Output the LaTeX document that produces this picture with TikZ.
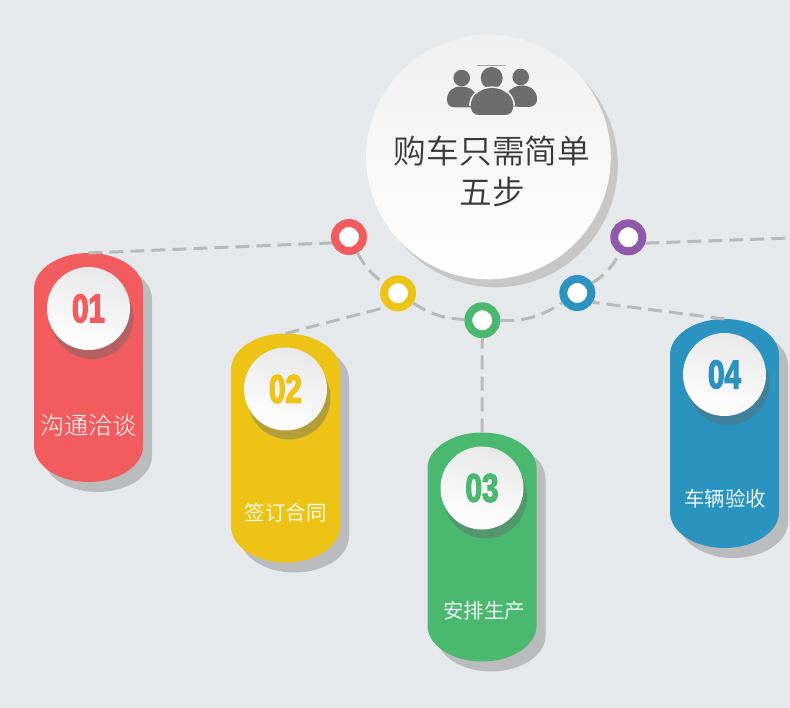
\documentclass[tikz,border=0pt]{standalone}
\usepackage{fontspec}
\newfontfamily\cjkbody{Noto Sans CJK SC DemiLight}
\newfontfamily\cjklight{Noto Sans CJK SC Light}
\newfontfamily\numfont[FakeStretch=0.74,FakeBold=3]{Liberation Sans Bold}
\definecolor{bgc}{HTML}{E6E9EC}
\definecolor{redc}{HTML}{F25C5E}
\definecolor{yelc}{HTML}{EDC316}
\definecolor{grnc}{HTML}{4AB96F}
\definecolor{bluc}{HTML}{2B93C0}
\definecolor{purc}{HTML}{9058A8}
\definecolor{shc}{HTML}{B9BBBC}
\definecolor{dashc}{HTML}{B8B9B9}
\definecolor{iconc}{HTML}{6D6D6D}
\definecolor{discsh}{HTML}{606868}
\tikzset{
  ring/.style={circle,fill=white,draw=#1,line width=8pt,minimum size=28pt,inner sep=0pt},
  link/.style={draw=dashc,line width=3pt,dash pattern=on 14pt off 7pt},
  numdisc/.style={circle,minimum size=83pt,inner sep=0pt,top color=black!9,bottom color=white,shading angle=-15},
  bigdisc/.style={circle,minimum size=244.6pt,inner sep=0pt,top color=black!6,bottom color=white,shading angle=0},
  anchorbox/.style={rectangle,minimum width=109pt,minimum height=229pt,inner sep=0pt,outer sep=0pt},
  pilltext/.style={text=white,inner sep=0pt},
  titletext/.style={inner sep=0pt,text=black!78,align=center,font=\fontsize{32.7pt}{41pt}\selectfont\cjkbody},
}
\newcommand{\pillpath}{(-54.5,-78.5) arc[start angle=180,end angle=360,x radius=54.5,y radius=36] -- (54.5,78.5) arc[start angle=0,end angle=180,x radius=54.5,y radius=36] -- cycle}
% #1 name, #2 cx, #3 cy, #4 colour, #5 number
\newcommand{\stepcard}[5]{%
  \fill[shc,shift={(#2+9,#3+10)}] \pillpath;
  \fill[#4,shift={(#2,#3)}] \pillpath;
  \node[anchorbox] (#1) at (#2,#3) {};
  \fill[discsh,opacity=.4] (#2+3.5,#3-50) circle[radius=41.5];
  \node[numdisc] (#1n) at (#2,#3-59) {\raisebox{-1pt}{\fontsize{40pt}{40pt}\selectfont\numfont\textcolor{#4}{#5}}};
}
\begin{document}
\begin{tikzpicture}[x=1pt,y=-1pt]
\fill[bgc] (0,0) rectangle (790,708);
\useasboundingbox (0,0) rectangle (790,708);

% centre disc
\fill[black!22] (495.5,165) circle[radius=122.3];
\node[bigdisc] (hub) at (488.5,157) {};

% icon
\draw[black!35,line width=.5pt] (477,65) -- (506,65);
\fill[iconc] (461.7,78) circle[radius=8.3];
\fill[iconc] (520.7,77) circle[radius=8.3];
\fill[iconc] (447,100) .. controls (447,91) and (453,86.5) .. (461,86.5) .. controls (469,86.5) and (477,91) .. (478,100) -- (476,107.3) -- (455,107.3) .. controls (450,107.3) and (447,105) .. (447,100) -- cycle;
\fill[iconc] (537,99) .. controls (537,91) and (531,85.5) .. (522,85.5) .. controls (514,85.5) and (506,91) .. (505,100) -- (507,106.5) -- (528,107) .. controls (534,107) and (537,104) .. (537,99) -- cycle;
\fill[iconc] (491.7,78) circle[radius=11];
\draw[white!90!iconc,line width=1.6pt] (469.7,106) .. controls (470.2,94) and (480,87.2) .. (492,87.2) .. controls (504,87.2) and (513.8,94) .. (514.3,106);
\fill[iconc] (471,105) .. controls (472,95) and (481,88) .. (492,88) .. controls (503,88) and (512,95) .. (513,105) .. controls (513.5,112) and (510,115) .. (505,115) -- (479,115) .. controls (474,115) and (470.5,112) .. (471,105) -- cycle;

\node[titletext] (title) at (492,171.5) {购车只需简单\\五步};

% cards
\stepcard{c1}{88.5}{367.5}{redc}{01}
\stepcard{c2}{285.5}{448}{yelc}{02}
\stepcard{c3}{482}{547}{grnc}{03}
\stepcard{c4}{724.5}{433.5}{bluc}{04}

\node[pilltext] (l1) at (88.5,425) {\fontsize{24pt}{24pt}\selectfont\cjklight 沟通洽谈};
\node[pilltext] (l2) at (285.5,513) {\fontsize{20.5pt}{20.5pt}\selectfont\cjkbody 签订合同};
\node[pilltext] (l3) at (484,611) {\fontsize{20.5pt}{20.5pt}\selectfont\cjkbody 安排生产};
\node[pilltext] (l4) at (725,499) {\fontsize{20.5pt}{20.5pt}\selectfont\cjkbody 车辆验收};

% ring nodes
\node[ring=redc] (r1) at (349,237) {};
\node[ring=yelc] (r2) at (398,293.3) {};
\node[ring=grnc] (r3) at (482.3,320.3) {};
\node[ring=bluc] (r4) at (577.3,293) {};
\node[ring=purc] (r5) at (628.3,237.3) {};
\coordinate (free) at (790,238);

% connectors
\draw[link] (c1.north) -- (r1.199);
\draw[link] (c2.north) -- (r2.230);
\draw[link] (c3.north) -- (r3);
\draw[link] (c4.north) -- (r4.329);
\draw[link] (r5.341) -- (free);
\draw[link] (r1) to[bend right=13] (r2);
\draw[link] (r2) to[bend right=15] (r3);
\draw[link] (r3) to[bend right=17] (r4);
\draw[link] (r4) to[bend right=14] (r5);
\end{tikzpicture}
\end{document}
